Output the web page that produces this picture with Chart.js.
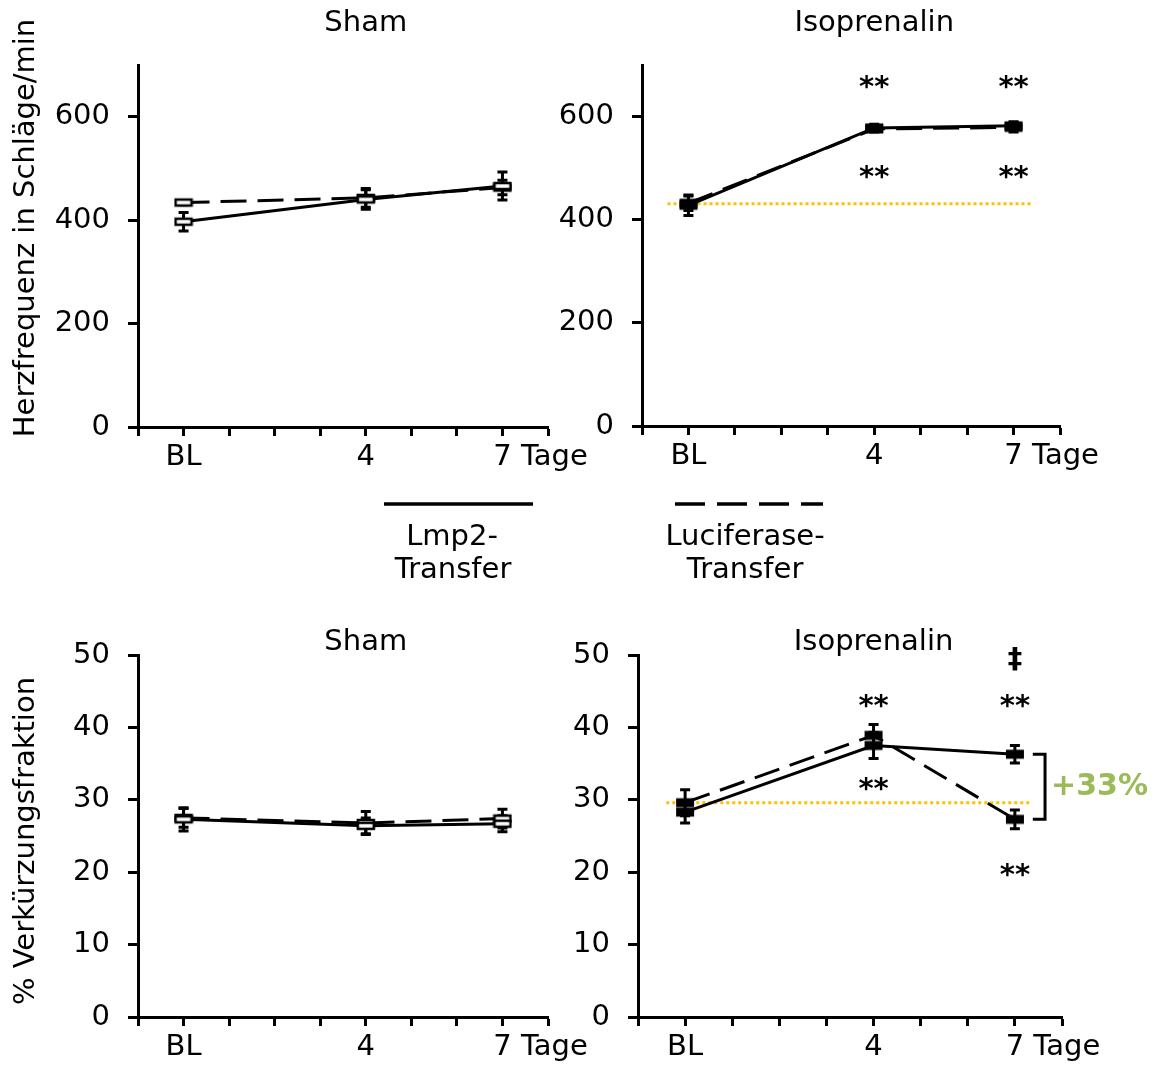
<!DOCTYPE html>
<html>
<head>
<meta charset="utf-8">
<script src="https://cdn.jsdelivr.net/npm/chart.js@4.4.0/dist/chart.umd.min.js"></script>
<style>
  html, body { margin: 0; padding: 0; background: #fff; }
  #wrap { position: relative; width: 1155px; height: 1066px; overflow: hidden; }
  #wrap canvas { position: absolute; }
</style>
</head>
<body>
<div id="wrap">
  <canvas id="hrSham" width="1155" height="600" style="left:0;top:0"></canvas>
  <canvas id="hrIso" width="595" height="480" style="left:560px;top:0"></canvas>
  <canvas id="fsSham" width="600" height="466" style="left:0;top:600px"></canvas>
  <canvas id="fsIso" width="595" height="466" style="left:560px;top:600px"></canvas>
</div>
<script>
// x: Tage nach Transfer (BL = Ausgangswert)
const days = [0, 4, 7];
const xTickLabels = { 0: 'BL', 4: '4', 7: '7' };
const xUnit = 'Tage';
const hrTicks = [0, 200, 400, 600];
const fsTicks = [0, 10, 20, 30, 40, 50];

// Herzfrequenz (Schläge/min), Mittelwert und Fehler
const lmp2HrSham = [397, 440, 466];
const lmp2HrShamErr = [18, 19, 27];
const lucHrSham = [434, 443, 463];
const lucHrShamErr = [4, 18, 14];

const lmp2HrIso = [428, 578, 582];
const lmp2HrIsoErr = [20, 7, 8];
const lucHrIso = [432, 576, 579];
const lucHrIsoErr = [14, 6, 9];

// % Verkürzungsfraktion
const lmp2FsSham = [27.3, 26.4, 26.7];
const lmp2FsShamErr = [1.6, 1.1, 1.1];
const lucFsSham = [27.5, 26.8, 27.4];
const lucFsShamErr = [1.3, 1.6, 1.3];

const lmp2FsIso = [28.3, 37.5, 36.3];
const lmp2FsIsoErr = [1.5, 1.8, 1.2];
const lucFsIso = [29.6, 38.9, 27.3];
const lucFsIsoErr = [1.8, 1.5, 1.3];

const isoHrBaseline = 431;
const isoFsBaseline = 29.6;
const fsDiffLabel = '+33%';

const FONT = '"DejaVu Sans", Verdana, sans-serif';
const ORANGE = '#FFC000';
const GREEN = '#9BBB59';
const DASH = [26, 11];
const STAR_LIFT = 0.42;

function marker(filled) {
  const c = document.createElement('canvas');
  c.width = 20; c.height = 12;
  const g = c.getContext('2d');
  g.strokeStyle = '#000';
  g.lineWidth = 2.5;
  if (filled) {
    g.fillStyle = '#000';
    g.fillRect(1, 1.5, 18, 9);
  } else {
    g.fillStyle = '#fff';
    g.fillRect(2, 3, 16, 6);
    g.strokeRect(2, 3, 16, 6);
  }
  return c;
}

function series(values, errors, dash, filled) {
  return {
    data: values.map((v, i) => ({ x: days[i], y: v })),
    errors: errors,
    borderColor: '#000',
    borderWidth: 3,
    borderDash: dash,
    tension: 0,
    fill: false,
    pointStyle: marker(filled),
    pointRadius: 6,
  };
}

const errorBars = {
  id: 'errorBars',
  beforeDatasetsDraw(chart) {
    const { ctx, scales: { x, y } } = chart;
    ctx.save();
    ctx.strokeStyle = '#000';
    ctx.lineWidth = 3;
    chart.data.datasets.forEach(ds => {
      ds.data.forEach((p, i) => {
        const px = x.getPixelForValue(p.x);
        const top = y.getPixelForValue(p.y + ds.errors[i]);
        const bot = y.getPixelForValue(p.y - ds.errors[i]);
        ctx.beginPath();
        ctx.moveTo(px, top); ctx.lineTo(px, bot);
        ctx.moveTo(px - 5, top); ctx.lineTo(px + 5, top);
        ctx.moveTo(px - 5, bot); ctx.lineTo(px + 5, bot);
        ctx.stroke();
      });
    });
    ctx.restore();
  }
};

function decor(cfg) {
  return {
    id: 'decor',
    beforeDatasetsDraw(chart) {
      if (!cfg.baseline) return;
      const { ctx, scales: { x, y } } = chart;
      const py = y.getPixelForValue(cfg.baseline.value);
      ctx.save();
      ctx.strokeStyle = ORANGE;
      ctx.lineWidth = 3;
      ctx.setLineDash([3, 3]);
      ctx.beginPath();
      ctx.moveTo(x.getPixelForValue(cfg.baseline.from), py);
      ctx.lineTo(x.getPixelForValue(cfg.baseline.to), py);
      ctx.stroke();
      ctx.restore();
    },
    afterDraw(chart) {
      const { ctx, scales: { x, y } } = chart;
      ctx.save();
      ctx.fillStyle = '#000';
      ctx.font = '29px ' + FONT;
      // panel title
      ctx.textAlign = 'center';
      ctx.textBaseline = 'middle';
      ctx.fillText(cfg.title, x.getPixelForValue(4), cfg.titleY);
      // "Tage" behind the 7
      const item = x.getLabelItems().find(it => it.label === '7');
      if (item) {
        const [lx, ly] = item.options.translation;
        ctx.textAlign = 'left';
        ctx.textBaseline = item.options.textBaseline;
        const off = ctx.measureText('7').width / 2 + ctx.measureText(' ').width;
        ctx.fillText(xUnit, lx + off, ly + item.textOffset);
      }
      // y axis title
      if (cfg.yTitle) {
        ctx.save();
        ctx.translate(cfg.yTitle.x, cfg.yTitle.y);
        ctx.rotate(-Math.PI / 2);
        ctx.textAlign = 'center';
        ctx.textBaseline = 'alphabetic';
        ctx.fillText(cfg.yTitle.text, 0, 0);
        ctx.restore();
      }
      // significance marks
      (cfg.notes || []).forEach(n => {
        ctx.font = 'bold 29px ' + FONT;
        ctx.textAlign = 'center';
        ctx.textBaseline = 'alphabetic';
        ctx.fillText(n.text, x.getPixelForValue(n.x), y.getPixelForValue(n.y) + n.lift * 29);
      });
      // bracket with difference label
      if (cfg.bracket) {
        const b = cfg.bracket;
        const x0 = x.getPixelForValue(b.from), x1 = x.getPixelForValue(b.to);
        const y0 = y.getPixelForValue(b.top), y1 = y.getPixelForValue(b.bottom);
        ctx.strokeStyle = '#000';
        ctx.lineWidth = 3;
        ctx.beginPath();
        ctx.moveTo(x0, y0); ctx.lineTo(x1, y0); ctx.lineTo(x1, y1); ctx.lineTo(x0, y1);
        ctx.stroke();
        ctx.fillStyle = GREEN;
        ctx.font = 'bold 30px ' + FONT;
        ctx.textAlign = 'left';
        ctx.textBaseline = 'middle';
        ctx.fillText(b.label, x1 + 6, (y0 + y1) / 2);
      }
      // legend
      if (cfg.legend) {
        ctx.strokeStyle = '#000';
        ctx.lineWidth = 3.5;
        ctx.beginPath();
        ctx.moveTo(384, 504); ctx.lineTo(533, 504);
        ctx.stroke();
        ctx.setLineDash([30, 12]);
        ctx.beginPath();
        ctx.moveTo(675, 504); ctx.lineTo(823, 504);
        ctx.stroke();
        ctx.setLineDash([]);
        ctx.fillStyle = '#000';
        ctx.font = '29px ' + FONT;
        ctx.textAlign = 'center';
        ctx.textBaseline = 'alphabetic';
        ctx.fillText('Lmp2-', 452, 545);
        ctx.fillText('Transfer', 453, 578);
        ctx.fillText('Luciferase-', 745, 545);
        ctx.fillText('Transfer', 745, 578);
      }
      ctx.restore();
    }
  };
}

function panel(id, cfg) {
  const canvas = document.getElementById(id);
  const W = canvas.width, H = canvas.height;
  const a = cfg.area;
  const tickFont = { family: FONT, size: 29 };
  return new Chart(canvas, {
    type: 'line',
    data: {
      datasets: [
        series(cfg.lmp2, cfg.lmp2Err, [], cfg.filled),
        series(cfg.luc, cfg.lucErr, DASH, cfg.filled),
      ]
    },
    options: {
      responsive: false,
      animation: false,
      events: [],
      layout: { padding: { left: 0, top: a.top, right: W - a.right, bottom: 0 } },
      plugins: { legend: { display: false }, tooltip: { enabled: false } },
      scales: {
        x: {
          type: 'linear', min: -1, max: 8,
          afterFit: s => { s.height = H - a.bottom; },
          ticks: {
            stepSize: 1, autoSkip: false, maxRotation: 0, padding: 4,
            color: '#000', font: tickFont,
            callback: v => xTickLabels[v] ?? ''
          },
          grid: { drawOnChartArea: false, tickLength: 9, tickWidth: 3, tickColor: '#000' },
          border: { color: '#000', width: 3 }
        },
        y: {
          min: 0, max: cfg.yMax,
          afterFit: s => { s.width = a.left; },
          afterBuildTicks: s => { s.ticks = cfg.yTicks.map(v => ({ value: v })); },
          ticks: { padding: 18, color: '#000', font: tickFont },
          grid: { drawOnChartArea: false, tickLength: 10, tickWidth: 3, tickColor: '#000' },
          border: { color: '#000', width: 3 }
        }
      }
    },
    plugins: [errorBars, decor(cfg)]
  });
}

panel('hrSham', {
  area: { left: 138, right: 548, top: 65, bottom: 427 },
  lmp2: lmp2HrSham, lmp2Err: lmp2HrShamErr, luc: lucHrSham, lucErr: lucHrShamErr,
  filled: false, yMax: 700, yTicks: hrTicks,
  title: 'Sham', titleY: 23,
  yTitle: { text: 'Herzfrequenz in Schläge/min', x: 34, y: 228 },
  legend: true
});

panel('hrIso', {
  area: { left: 82, right: 500, top: 65, bottom: 426 },
  lmp2: lmp2HrIso, lmp2Err: lmp2HrIsoErr, luc: lucHrIso, lucErr: lucHrIsoErr,
  filled: true, yMax: 700, yTicks: hrTicks,
  title: 'Isoprenalin', titleY: 23,
  baseline: { value: isoHrBaseline, from: -0.45, to: 7.4 },
  notes: [
    { text: '**', x: 4, y: 663, lift: STAR_LIFT },
    { text: '**', x: 7, y: 663, lift: STAR_LIFT },
    { text: '**', x: 4, y: 489, lift: STAR_LIFT },
    { text: '**', x: 7, y: 489, lift: STAR_LIFT },
  ]
});

panel('fsSham', {
  area: { left: 138, right: 548, top: 55, bottom: 417 },
  lmp2: lmp2FsSham, lmp2Err: lmp2FsShamErr, luc: lucFsSham, lucErr: lucFsShamErr,
  filled: false, yMax: 50, yTicks: fsTicks,
  title: 'Sham', titleY: 42,
  yTitle: { text: '% Verkürzungsfraktion', x: 34, y: 241 }
});

panel('fsIso', {
  area: { left: 78, right: 502, top: 55, bottom: 417 },
  lmp2: lmp2FsIso, lmp2Err: lmp2FsIsoErr, luc: lucFsIso, lucErr: lucFsIsoErr,
  filled: true, yMax: 50, yTicks: fsTicks,
  title: 'Isoprenalin', titleY: 42,
  baseline: { value: isoFsBaseline, from: -0.4, to: 7.36 },
  notes: [
    { text: '‡', x: 7, y: 49.4, lift: 0.3 },
    { text: '**', x: 7, y: 43.4, lift: STAR_LIFT },
    { text: '**', x: 4, y: 43.4, lift: STAR_LIFT },
    { text: '**', x: 4, y: 32.0, lift: STAR_LIFT },
    { text: '**', x: 7, y: 20.0, lift: STAR_LIFT },
  ],
  bracket: { from: 7.38, to: 7.64, top: lmp2FsIso[2], bottom: lucFsIso[2], label: fsDiffLabel }
});
</script>
</body>
</html>
